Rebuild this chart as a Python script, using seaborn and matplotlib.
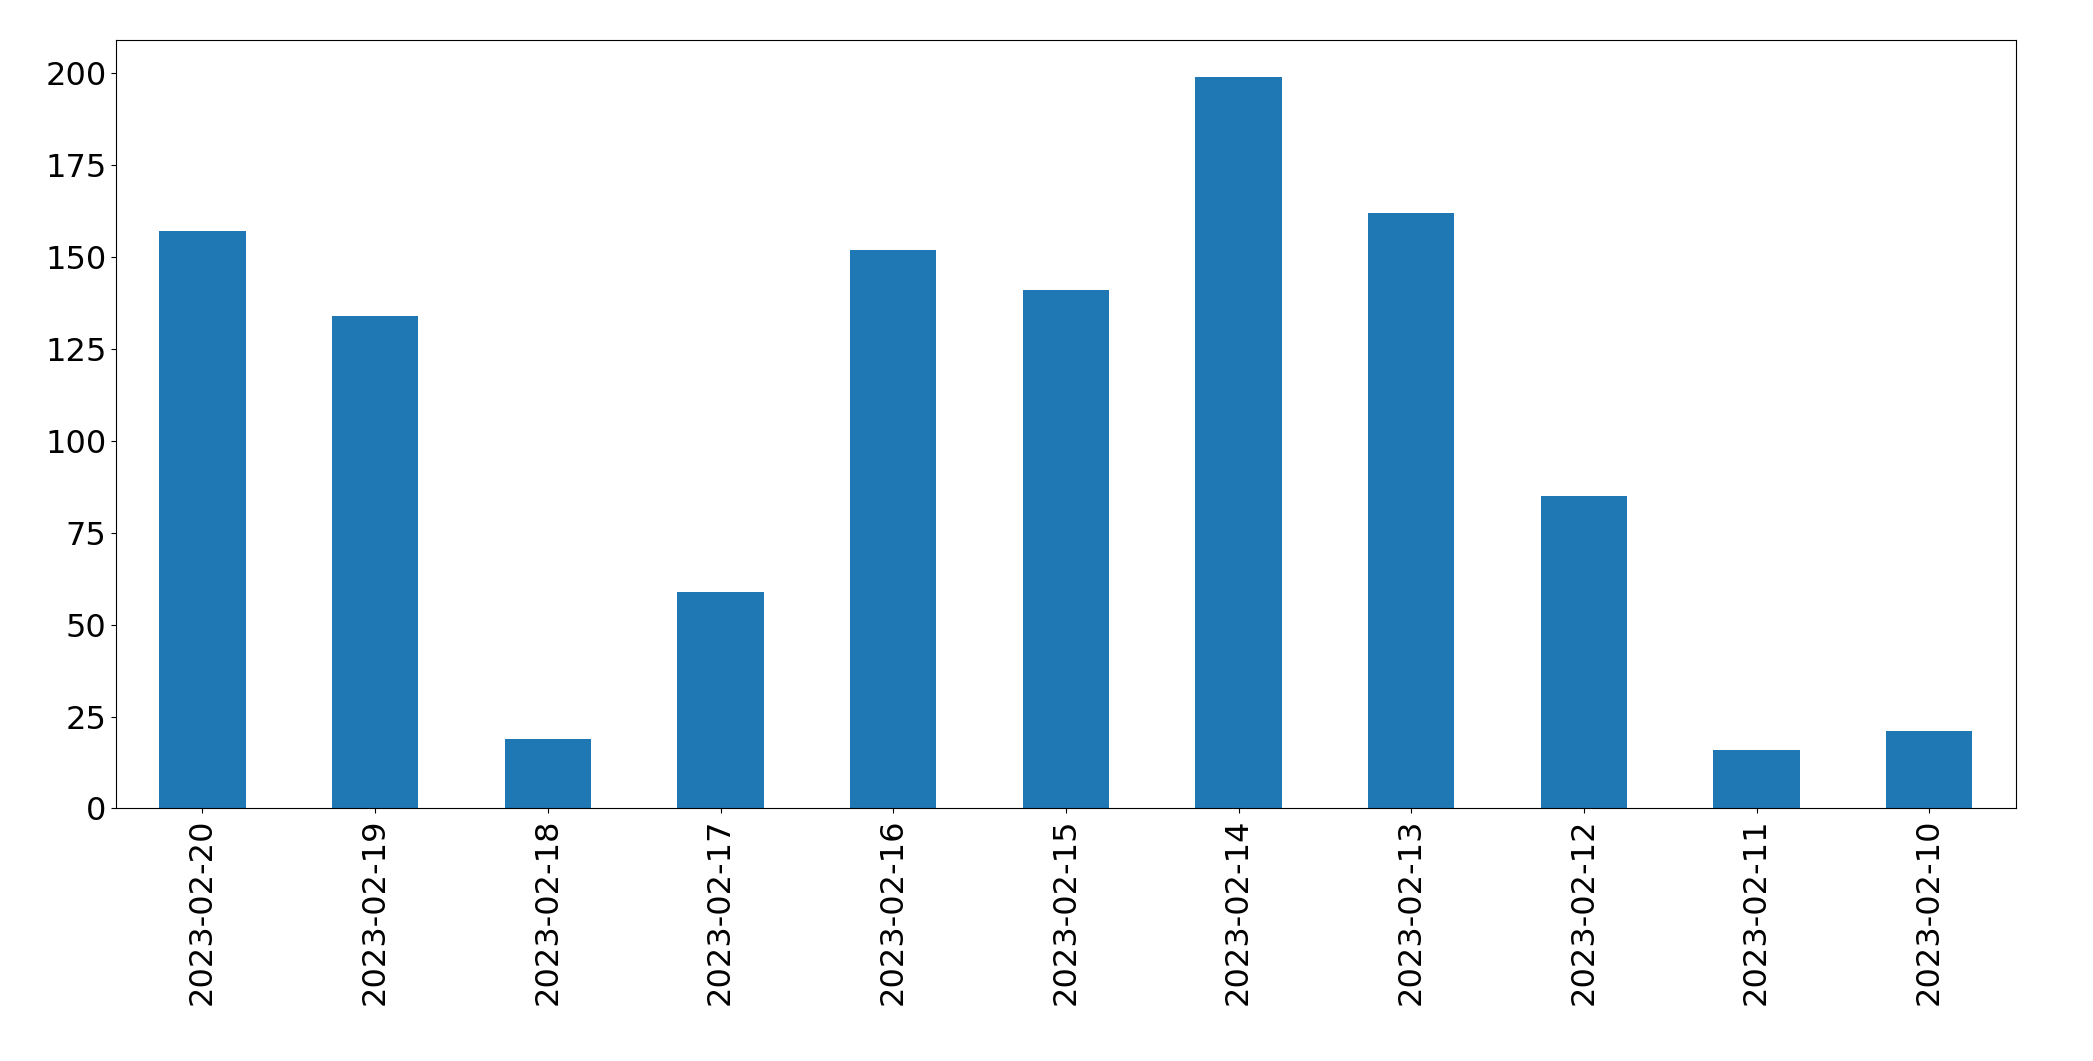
import matplotlib
matplotlib.use("Agg")
import matplotlib.pyplot as plt
import seaborn as sns
import pandas as pd

dates = ["2023-02-20","2023-02-19","2023-02-18","2023-02-17","2023-02-16","2023-02-15",
         "2023-02-14","2023-02-13","2023-02-12","2023-02-11","2023-02-10"]
counts = [157,134,19,59,152,141,199,162,85,16,21]

df = pd.DataFrame({"date": dates, "count": counts})
fig = plt.figure(figsize=(20.93, 10.61), dpi=100)
ax = fig.add_axes([0.0555, 0.238, 0.9075, 0.724])
sns.barplot(data=df, x="date", y="count", order=dates, color="#1f77b4",
            saturation=1, width=0.5, ax=ax)
ax.set_xlim(-0.5, len(dates) - 0.5)
ax.set_ylim(0, 199 * 1.05)
ax.set_xlabel("")
ax.set_ylabel("")
ax.tick_params(axis="both", labelsize=23)
ax.tick_params(axis="x", labelrotation=90)
fig.savefig("out.png", dpi=100)
